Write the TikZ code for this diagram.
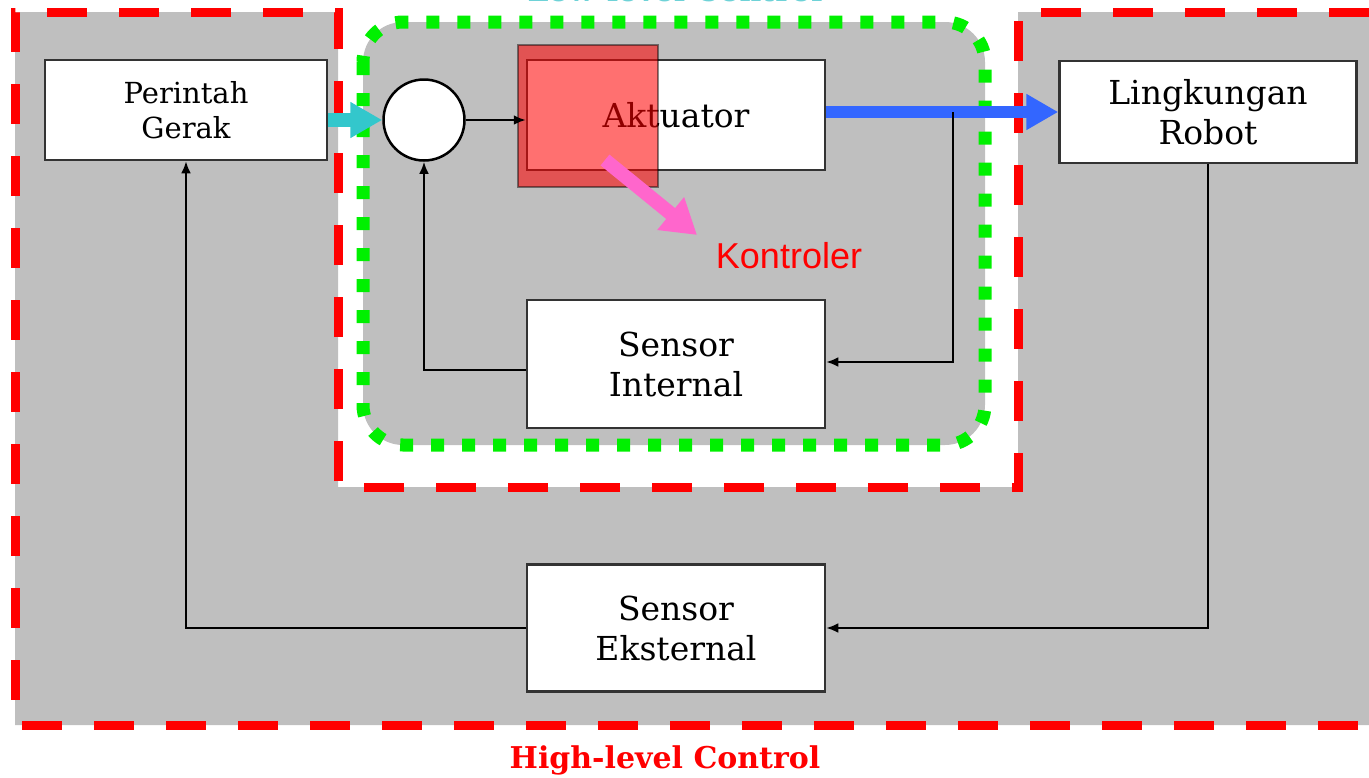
\documentclass[tikz,border=0pt]{standalone}
\usepackage{fontspec}
\setmainfont{DejaVu Serif}
\setsansfont{Liberation Sans}
\usetikzlibrary{arrows.meta}
\definecolor{bggray}{RGB}{191,191,191}
\definecolor{redline}{RGB}{255,0,0}
\definecolor{greendot}{RGB}{0,240,0}
\definecolor{cyanarr}{RGB}{51,199,204}
\definecolor{bluearr}{RGB}{51,102,255}
\definecolor{pinkarr}{RGB}{255,102,204}
\definecolor{lowcyan}{RGB}{110,210,215}
\tikzset{
  box/.style={draw=black!80, line width=2.5pt, fill=white, inner sep=0pt, align=center,
    font=\fontsize{33}{40}\selectfont},
  sig/.style={draw=black, line width=2.5pt, -{Latex[length=12pt,width=10pt]}},
  reddash/.style={draw=redline, line width=9pt, dash pattern=on 40pt off 32pt},
  greendots/.style={draw=greendot, line width=13pt, dash pattern=on 13pt off 18pt},
  fatarrow/.style={line width=#1, -{Triangle[length=32pt,width=34pt]}},
}
\begin{document}
\begin{tikzpicture}[x=1pt,y=-1pt]
\useasboundingbox (0,0) rectangle (1369,777);
% gray region with notch
\fill[bggray] (1369,12) -- (1018,12) -- (1018,487) -- (338,487) -- (338,12) -- (15,12) -- (15,725) -- (1369,725) -- cycle;
% low-level rounded area
\fill[bggray, rounded corners=40pt] (363,22) rectangle (985,445);
\draw[greendots, rounded corners=40pt] (363,22) rectangle (985,445);
% red dashed high-level border
\draw[reddash] (1369,12) -- (1018,12) -- (1018,487) -- (338,487) -- (338,12) -- (15,12) -- (15,725) -- (1369,725);

% labels of the regions
\node[anchor=base, text=lowcyan, font=\bfseries\fontsize{30}{36}\selectfont] (lowlab) at (675,1) {Low-level Control};
\node[anchor=base, text=redline, font=\bfseries\fontsize{30}{36}\selectfont] (highlab) at (665,768) {High-level Control};

% blocks
\node[box, minimum width=282pt, minimum height=100pt, font=\fontsize{29}{35}\selectfont] (perintah) at (186,110) {Perintah\\Gerak};
\node[draw=black, line width=2.5pt, fill=white, circle, minimum size=81pt, inner sep=0pt] (sum) at (424,120) {};
\node[box, minimum width=298pt, minimum height=110pt] (akt) at (676,115) {Aktuator};
\node[box, minimum width=298pt, minimum height=128pt] (sint) at (676,364) {Sensor\\Internal};
\node[box, minimum width=297pt, minimum height=102pt] (ling) at (1208,112) {Lingkungan\\Robot};
\node[box, minimum width=298pt, minimum height=127pt] (seks) at (676,628) {Sensor\\Eksternal};

% controller overlay
\node[fill=red, fill opacity=0.56, draw=black, draw opacity=0.45, line width=2pt,
      minimum width=140pt, minimum height=142pt, inner sep=0pt] (ctrl) at (588,116) {};
\node[anchor=base, text=redline, font=\sffamily\fontsize{36}{42}\selectfont] (kont) at (789,268) {Kontroler};

% connectors
\draw[fatarrow=14pt, cyanarr] (perintah.east |- sum.west) -- (sum.west);
\draw[sig] (sum.east) -- (akt.west |- sum.east);
\draw[fatarrow=12pt, bluearr] (akt.east |- ling.west) -- (ling.west);
\coordinate (tap) at (953,112);
\draw[sig] (tap) |- ([yshift=2pt]sint.east);
\draw[sig] ([yshift=-6pt]sint.west) -| (sum.south);
\draw[sig] (ling.south) |- (seks.east);
\draw[sig] (seks.west) -| (perintah.south);
\coordinate (pstart) at (605,160);
\coordinate (pend) at (697,235);
\draw[pinkarr, line width=14pt, -{Triangle[length=34pt,width=40pt]}] (pstart) -- (pend);
\end{tikzpicture}
\end{document}
